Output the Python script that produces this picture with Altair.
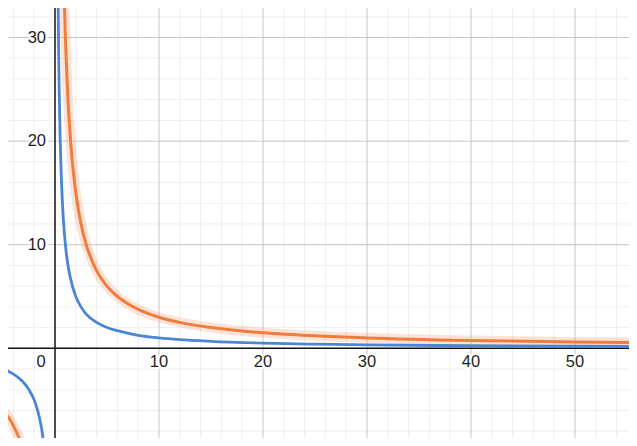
import altair as alt
import pandas as pd

# Read-off values from the picture
blue_pos_x = [0.3, 0.35, 0.4, 0.5, 0.6, 0.7, 0.8, 1, 1.2, 1.5, 2, 2.5, 3, 4, 5, 6, 8, 10, 12, 15, 20, 25, 30, 40, 50, 57]
blue_pos_y = [33.3, 28.6, 25, 20, 16.7, 14.3, 12.5, 10, 8.3, 6.7, 5, 4, 3.3, 2.5, 2, 1.7, 1.25, 1, 0.83, 0.67, 0.5, 0.4, 0.33, 0.25, 0.2, 0.18]
blue_neg_x = [-4.8, -4.6, -4, -3.5, -3, -2.5, -2, -1.7, -1.5, -1.3, -1.1, -1.0, -0.9]
blue_neg_y = [-2.08, -2.17, -2.5, -2.86, -3.33, -4, -5, -5.9, -6.7, -7.7, -9.1, -10, -11.1]
orange_pos_x = [0.9, 1, 1.1, 1.2, 1.4, 1.6, 1.8, 2, 2.5, 3, 3.5, 4, 5, 6, 7, 8, 10, 12, 15, 20, 25, 30, 40, 50, 57]
orange_pos_y = [33.3, 30, 27.3, 25, 21.4, 18.75, 16.7, 15, 12, 10, 8.6, 7.5, 6, 5, 4.3, 3.75, 3, 2.5, 2, 1.5, 1.2, 1, 0.75, 0.6, 0.53]
orange_neg_x = [-4.8, -4.6, -4.2, -4, -3.8, -3.6, -3.4, -3.2, -3.0, -2.8]
orange_neg_y = [-6.25, -6.5, -7.1, -7.5, -7.9, -8.3, -8.8, -9.4, -10, -10.7]

major_ticks = [-10, 0, 10, 20, 30, 40, 50]
minor_ticks = list(range(-10, 58, 2))
x_labels = [10, 20, 30, 40, 50]
y_labels = [10, 20, 30]

X_DOM = [-4.52, 55.19]
Y_DOM = [-8.66, 32.85]

xs = alt.Scale(domain=X_DOM, nice=False, zero=False)
ys = alt.Scale(domain=Y_DOM, nice=False, zero=False)

def curve(xv, yv, seg):
    return pd.DataFrame({"x": xv, "y": yv, "seg": seg})

blue = pd.concat([curve(blue_pos_x, blue_pos_y, "p"), curve(blue_neg_x, blue_neg_y, "n")])
orange = pd.concat([curve(orange_pos_x, orange_pos_y, "p"), curve(orange_neg_x, orange_neg_y, "n")])

minor_x = pd.DataFrame({"v": [t for t in minor_ticks if t % 10 != 0]})
major_x = pd.DataFrame({"v": [t for t in major_ticks if t != 0]})
minor_y = pd.DataFrame({"v": [t for t in minor_ticks if t % 10 != 0 and t < 34]})
major_y = pd.DataFrame({"v": [t for t in major_ticks if t != 0 and t < 34]})
zero = pd.DataFrame({"v": [0]})

noaxis = None

def vrules(df, color, w):
    return alt.Chart(df).mark_rule(color=color, strokeWidth=w, clip=True).encode(
        x=alt.X("v:Q", scale=xs, axis=noaxis))

def hrules(df, color, w):
    return alt.Chart(df).mark_rule(color=color, strokeWidth=w, clip=True).encode(
        y=alt.Y("v:Q", scale=ys, axis=noaxis))

def line(df, color, w, op=1.0):
    return alt.Chart(df).mark_line(color=color, strokeWidth=w, opacity=op, clip=True,
                                   interpolate="monotone", strokeCap="round").encode(
        x=alt.X("x:Q", scale=xs, axis=noaxis),
        y=alt.Y("y:Q", scale=ys, axis=noaxis),
        detail="seg:N", order="x:Q")

xl = pd.DataFrame({"v": x_labels, "t": [str(v) for v in x_labels]})
yl = pd.DataFrame({"v": y_labels, "t": [str(v) for v in y_labels]})
zl = pd.DataFrame({"v": [0], "t": ["0"]})

font = "Liberation Sans"
FS = 16.5
TC = "#1e1e1e"

def labels(halo):
    extra = dict(stroke="white", strokeWidth=4, strokeJoin="round", fill="white") if halo else dict(color=TC)
    xlab = alt.Chart(xl).transform_calculate(zero="0").mark_text(
        font=font, fontSize=FS, baseline="top", dy=6, **extra).encode(
        x=alt.X("v:Q", scale=xs, axis=noaxis), y=alt.Y("zero:Q", scale=ys, axis=noaxis), text="t:N")
    ylab = alt.Chart(yl).transform_calculate(zero="0").mark_text(
        font=font, fontSize=FS, align="right", baseline="middle", dx=-9, **extra).encode(
        y=alt.Y("v:Q", scale=ys, axis=noaxis), x=alt.X("zero:Q", scale=xs, axis=noaxis), text="t:N")
    zlab = alt.Chart(zl).mark_text(
        font=font, fontSize=FS, align="center", baseline="top", dx=-14, dy=6, **extra).encode(
        x=alt.X("v:Q", scale=xs, axis=noaxis), y=alt.Y("v:Q", scale=ys, axis=noaxis), text="t:N")
    return [xlab, ylab, zlab]

chart = alt.layer(
    vrules(minor_x, "#efefef", 1),
    hrules(minor_y, "#efefef", 1),
    vrules(major_x, "#c6c6c6", 1),
    hrules(major_y, "#c6c6c6", 1),
    *labels(True),
    vrules(zero, "#111", 1.5),
    hrules(zero, "#111", 1.5),
    line(orange, "#f2a57a", 10, 0.3),
    line(orange, "#ee7d3e", 3),
    line(blue, "#4a86d4", 2.8),
    *labels(False),
).properties(
    width=621, height=430, padding=0, autosize=alt.AutoSizeParams(type="none")
).configure_view(stroke=None)

chart.save("out.html", embed_options={"renderer": "svg", "actions": False})
